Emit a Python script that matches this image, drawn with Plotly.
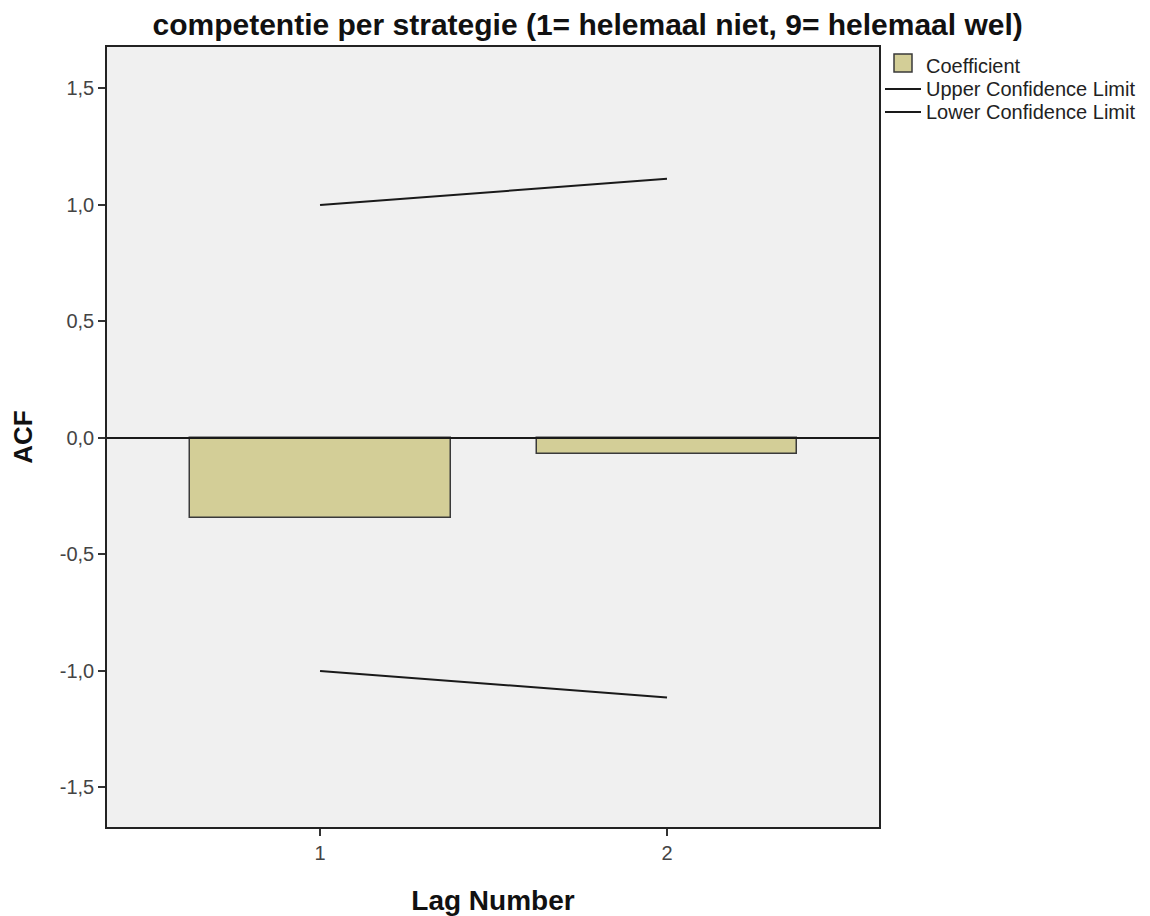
import plotly.graph_objects as go

lags = [1, 2]
coefficient = [-0.343, -0.069]
upper_cl = [1.0, 1.112]
lower_cl = [-1.0, -1.114]
y_ticks = [-1.5, -1.0, -0.5, 0.0, 0.5, 1.0, 1.5]
y_tick_text = ["-1,5", "-1,0", "-0,5", "0,0", "0,5", "1,0", "1,5"]
legend_labels = ["Coefficient", "Upper Confidence Limit", "Lower Confidence Limit"]

BAR_COLOR = "#D3CE97"
LINE_COLOR = "#1a1a1a"

fig = go.Figure()
fig.add_trace(go.Bar(
    x=lags, y=coefficient, name=legend_labels[0], width=0.752,
    marker=dict(color=BAR_COLOR, line=dict(color="#3a3a3a", width=1.5)),
))
fig.add_trace(go.Scatter(
    x=lags, y=upper_cl, mode="lines", name=legend_labels[1],
    line=dict(color=LINE_COLOR, width=2),
))
fig.add_trace(go.Scatter(
    x=lags, y=lower_cl, mode="lines", name=legend_labels[2],
    line=dict(color=LINE_COLOR, width=2),
))
fig.add_shape(type="line", xref="paper", x0=0, x1=1, y0=0, y1=0, yref="y",
              line=dict(color=LINE_COLOR, width=2))

# Manual legend (pixel positions converted to paper coordinates)
W, H = 1150, 916
L, R, T, B = 107, 271, 47, 89
pw, ph = W - L - R, H - T - B
def px(x):
    return (x - L) / pw
def py(y):
    return (H - B - y) / ph

fig.add_shape(type="rect", xref="paper", yref="paper",
              x0=px(894), x1=px(912), y0=py(72), y1=py(54),
              fillcolor=BAR_COLOR, line=dict(color="#3a3a3a", width=1.5))
for yy in (89, 112):
    fig.add_shape(type="line", xref="paper", yref="paper",
                  x0=px(885), x1=px(921), y0=py(yy), y1=py(yy),
                  line=dict(color=LINE_COLOR, width=2))
for lab, yy in zip(legend_labels, (66, 89, 112)):
    fig.add_annotation(text=lab, xref="paper", yref="paper", x=px(924), y=py(yy),
                       xanchor="left", yanchor="middle", showarrow=False,
                       font=dict(size=20, color="#222"))

fig.update_layout(
    width=W, height=H,
    margin=dict(l=L, r=R, t=T, b=B, autoexpand=False),
    paper_bgcolor="white", plot_bgcolor="#F0F0F0",
    font=dict(family="Liberation Sans, Arial, sans-serif", color="#222"),
    title=dict(text="<b>competentie per strategie (1= helemaal niet, 9= helemaal wel)</b>",
               x=0.511, xanchor="center", y=0.973, yanchor="middle",
               font=dict(size=30, color="#111")),
    showlegend=False,
    bargap=0,
)
fig.update_xaxes(
    range=[0.386, 2.611], tickvals=lags, ticktext=["1", "2"],
    ticks="outside", ticklen=7, tickcolor="#333", tickwidth=1.5,
    showline=True, linecolor="#222", linewidth=1.5, mirror=True,
    showgrid=False, zeroline=False, automargin=False,
    tickfont=dict(size=20, color="#444"),
    title=dict(text="<b>Lag Number</b>", font=dict(size=28, color="#111"), standoff=28),
)
fig.update_yaxes(
    range=[-1.67, 1.678], tickvals=y_ticks, ticktext=y_tick_text,
    ticks="outside", ticklen=7, tickcolor="#333", tickwidth=1.5,
    showline=True, linecolor="#222", linewidth=1.5, mirror=True,
    showgrid=False, zeroline=False, automargin=False,
    tickfont=dict(size=20, color="#444"),
    title=dict(text="<b>ACF</b>", font=dict(size=26, color="#111"), standoff=20),
)

fig.write_html("out.html")
